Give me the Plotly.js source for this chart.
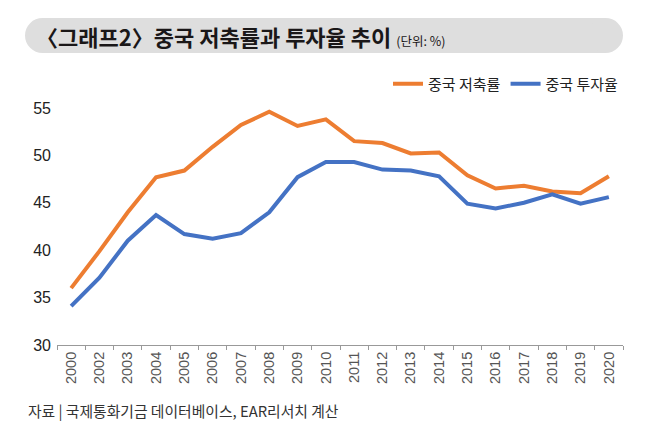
<!DOCTYPE html>
<html>
<head>
<meta charset="utf-8">
<script src="https://cdn.plot.ly/plotly-3.0.1.min.js"></script>
<style>
  html, body { margin: 0; padding: 0; background: #fff; }
  #chart { width: 650px; height: 433px; }
</style>
</head>
<body>
<div id="chart"></div>
<script>
// 연도 라벨 (원본 그림 그대로: 2001 없이 2000, 2002 ...)
let years = ['2000', '2002', '2003', '2004', '2005', '2006', '2007', '2008', '2009', '2010',
             '2011', '2012', '2013', '2014', '2015', '2016', '2017', '2018', '2019', '2020'];
// 중국 저축률 (%)
let savingRate = [36.0, 39.9, 44.0, 47.7, 48.4, 50.9, 53.2, 54.6, 53.1, 53.8,
                  51.5, 51.3, 50.2, 50.3, 47.9, 46.5, 46.8, 46.2, 46.0, 47.8];
// 중국 투자율 (%)
let investRate = [34.1, 37.1, 41.0, 43.7, 41.7, 41.2, 41.8, 44.0, 47.7, 49.3,
                  49.3, 48.5, 48.4, 47.8, 44.9, 44.4, 45.0, 45.9, 44.9, 45.6];
let yTicks = [30, 35, 40, 45, 50, 55];

let W = 650, H = 433;
let mL = 57, mR = 27, mT = 89, mB = 88;
let plotW = W - mL - mR;
let plotH = H - mT - mB;

// 픽셀 좌표 -> paper 좌표
function px(x) { return (x - mL) / plotW; }
function py(y) { return (H - mB - y) / plotH; }

let pillFill = '#dedede';
let pill = [
  {type: 'rect', xref: 'paper', yref: 'paper', x0: px(42.5), x1: px(605.5), y0: py(53), y1: py(18),
   fillcolor: pillFill, line: {width: 0}, layer: 'below'},
  {type: 'circle', xref: 'paper', yref: 'paper', x0: px(25), x1: px(60), y0: py(53), y1: py(18),
   fillcolor: pillFill, line: {width: 0}, layer: 'below'},
  {type: 'circle', xref: 'paper', yref: 'paper', x0: px(588), x1: px(623), y0: py(53), y1: py(18),
   fillcolor: pillFill, line: {width: 0}, layer: 'below'}
];

let saving = {
  x: years, y: savingRate, type: 'scatter', mode: 'lines', name: '중국 저축률',
  line: {color: '#ed7d31', width: 4}
};
let invest = {
  x: years, y: investRate, type: 'scatter', mode: 'lines', name: '중국 투자율',
  line: {color: '#4472c4', width: 4}
};

let layout = {
  width: W, height: H,
  margin: {l: mL, r: mR, t: mT, b: mB},
  paper_bgcolor: '#fff', plot_bgcolor: '#fff',
  font: {family: '"Noto Sans CJK KR", sans-serif', color: '#222'},
  showlegend: true,
  legend: {
    orientation: 'h', x: 1, xanchor: 'right', y: py(84), yanchor: 'middle',
    font: {size: 15, color: '#222'}, itemwidth: 30, traceorder: 'normal'
  },
  xaxis: {
    type: 'category', range: [-0.5, 19.5],
    showline: true, linecolor: '#999', linewidth: 1,
    ticks: 'outside', tickson: 'boundaries', ticklen: 4, tickcolor: '#999',
    tickangle: -90, showgrid: false, zeroline: false,
    tickfont: {family: '"Liberation Sans", Arial, sans-serif', size: 14.5, color: '#555'}
  },
  yaxis: {
    range: [30, 57], tickvals: yTicks, showgrid: false, zeroline: false, showline: false,
    ticks: '', ticklabelstandoff: 5,
    tickfont: {family: '"Liberation Sans", Arial, sans-serif', size: 16, color: '#222'}
  },
  shapes: pill,
  annotations: [
    {xref: 'paper', yref: 'paper', x: px(34), y: py(36), xanchor: 'left', yanchor: 'middle',
     showarrow: false, align: 'left',
     text: '<b>〈그래프2〉중국 저축률과 투자율 추이</b> <span style="font-size:12.5px">(단위: %)</span>',
     font: {size: 22, color: '#1a1718'}},
    {xref: 'paper', yref: 'paper', x: px(26), y: py(410), xanchor: 'left', yanchor: 'middle',
     showarrow: false, align: 'left',
     text: '자료 | 국제통화기금 데이터베이스, EAR리서치 계산',
     font: {size: 14.8, color: '#333'}}
  ]
};

Plotly.newPlot('chart', [saving, invest], layout, {displayModeBar: false, staticPlot: true});
</script>
</body>
</html>
